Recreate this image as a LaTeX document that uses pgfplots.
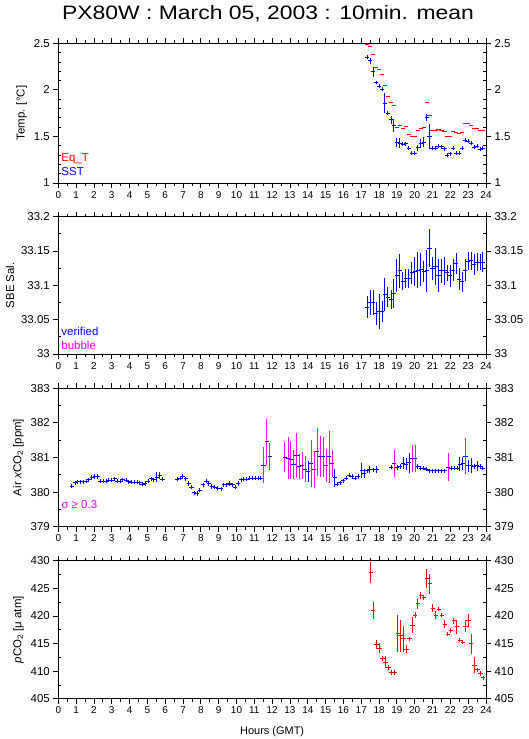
\documentclass[border=0pt]{standalone}
\usepackage{fontspec}
\setmainfont{Liberation Sans}
\usepackage{graphicx}
\usepackage{pgfplots}
\pgfplotsset{compat=1.18}
\definecolor{cblue}{RGB}{0,0,255}
\definecolor{cred}{RGB}{255,0,0}
\definecolor{cmag}{RGB}{255,0,255}

\pgfplotsset{
  panel/.style={
    scale only axis, width=427.7bp, xmin=0, xmax=24,
    xtick={0,1,...,24}, minor x tick num=1,
    tick align=outside, major tick length=5bp, minor tick length=3bp,
    xtick pos=both, ytick pos=left,
    minor y tick style={xshift=3bp},
    tick style={black, line width=0.8bp},
    axis line style={line width=0.8bp},
    xticklabel style={font=\fontsize{10}{12}\selectfont, inner sep=3bp},
    yticklabel style={font=\fontsize{11.5}{13}\selectfont},
    ylabel style={font=\fontsize{11.5}{13}\selectfont},
    /pgf/number format/assume math mode=true,
    clip=false,
  },
  rightaxis/.style={
    scale only axis, width=427.7bp, xmin=0, xmax=24, xtick=\empty,
    axis x line=none, axis y line*=right,
    tick align=outside, major tick length=5bp, minor tick length=3bp,
    minor y tick style={xshift=-3bp},
    tick style={black, line width=0.8bp},
    axis line style={line width=0.8bp},
    yticklabel style={font=\fontsize{11.5}{13}\selectfont},
    /pgf/number format/assume math mode=true,
  },
  pts/.style={only marks, mark=-, mark size=2.1bp, line width=1bp,
    color=#1, mark options={line width=1bp, solid, draw=#1}},
  ebar/.style={error bars/y dir=both, error bars/y explicit,
    error bars/error mark=none,
    error bars/draw error bar/.code 2 args={\draw[line width=1bp, color=#1] ##1 -- ##2;}},
}
\tikzset{note/.style={anchor=west, inner sep=3bp, font=\fontsize{11.5}{13}\selectfont}}

\begin{document}
\begin{tikzpicture}
\path[use as bounding box] (0,0) rectangle (529bp,739bp);

\node[font=\fontsize{19.5}{22}\selectfont] at (268bp,725bp) {\scalebox{1.18}[1]{PX80W : March 05, 2003 : 10min. mean}};

% ---- temperature
\begin{axis}[panel, at={(58.3bp,556bp)}, anchor=south west, height=139.7bp,
  ymin=1, ymax=2.5, ytick={1,1.5,2,2.5}, minor y tick num=4,
  ylabel={Temp. [°C]}]
\addplot[pts=cred] table {
17.33 2.49
17.50 2.47
17.67 2.385
17.83 2.24
18.00 2.22
18.17 2.17
18.33 2.05
18.50 1.93
18.67 1.867
18.83 1.834
19.00 1.598
19.17 1.615
19.33 1.59
19.50 1.609
19.67 1.526
19.83 1.50
20.00 1.50
20.17 1.569
20.33 1.587
20.50 1.598
20.67 1.859
20.83 1.727
21.00 1.569
21.17 1.569
21.33 1.576
21.50 1.569
21.67 1.558
21.83 1.50
22.00 1.50
22.17 1.558
22.33 1.544
22.50 1.534
22.67 1.544
22.83 1.641
23.00 1.641
23.17 1.619
23.33 1.58
23.50 1.587
23.67 1.569
23.83 1.569
};
\addplot[pts=cblue, ebar=cblue] table[x index=0, y index=1, y error index=2] {
17.33 2.35 0.02
17.50 2.31 0.03
17.67 2.195 0.055
17.83 2.08 0.02
18.00 2.04 0.02
18.17 2.006 0.02
18.33 1.856 0.105
18.50 1.75 0.02
18.67 1.677 0.04
18.83 1.62 0.07
19.00 1.437 0.048
19.17 1.426 0.055
19.33 1.415 0.02
19.50 1.422 0.02
19.67 1.372 0.02
19.83 1.319 0.02
20.00 1.319 0.02
20.17 1.379 0.032
20.33 1.422 0.045
20.50 1.437 0.055
20.67 1.705 0.04
20.83 1.50 0.13
21.00 1.372 0.02
21.17 1.372 0.02
21.33 1.397 0.02
21.50 1.39 0.02
21.67 1.365 0.02
21.83 1.30 0.02
22.00 1.315 0.02
22.17 1.372 0.02
22.33 1.319 0.02
22.50 1.319 0.02
22.67 1.372 0.02
22.83 1.46 0.02
23.00 1.45 0.02
23.17 1.426 0.02
23.33 1.383 0.02
23.50 1.397 0.02
23.67 1.362 0.02
23.83 1.372 0.02
};
\node[note, text=cred] at (rel axis cs:0,0.172) {Eq\_T};
\node[note, text=cblue] at (rel axis cs:0,0.079) {SST};
\end{axis}
\begin{axis}[rightaxis, at={(58.3bp,556bp)}, anchor=south west, height=139.7bp,
  ymin=1, ymax=2.5, ytick={1,1.5,2,2.5}, minor y tick num=4]
\addplot[draw=none] coordinates {(0,1)};
\end{axis}

% ---- salinity
\begin{axis}[panel, at={(58.3bp,385bp)}, anchor=south west, height=137.3bp,
  ymin=33, ymax=33.2, ytick={33,33.05,33.1,33.15,33.2}, minor y tick num=1,
  ylabel={SBE Sal.}]
\addplot[pts=cblue, ebar=cblue] table[x index=0, y index=1, y error index=2] {
17.33 33.068 0.016
17.50 33.075 0.018
17.67 33.075 0.018
17.83 33.059 0.017
18.00 33.062 0.026
18.17 33.062 0.015
18.33 33.086 0.024
18.50 33.083 0.014
18.67 33.079 0.014
18.83 33.088 0.021
19.00 33.114 0.024
19.17 33.121 0.025
19.33 33.106 0.013
19.50 33.110 0.014
19.67 33.110 0.014
19.83 33.118 0.016
20.00 33.120 0.021
20.17 33.122 0.026
20.33 33.123 0.024
20.50 33.120 0.015
20.67 33.121 0.030
20.83 33.154 0.028
21.00 33.125 0.017
21.17 33.128 0.027
21.33 33.114 0.024
21.50 33.121 0.018
21.67 33.121 0.020
21.83 33.118 0.012
22.00 33.114 0.016
22.17 33.122 0.016
22.33 33.132 0.015
22.50 33.109 0.016
22.67 33.105 0.015
22.83 33.122 0.016
23.00 33.135 0.013
23.17 33.136 0.013
23.33 33.130 0.015
23.50 33.134 0.013
23.67 33.134 0.011
23.83 33.134 0.014
};
\node[note, text=cblue] at (rel axis cs:0,0.162) {verified};
\node[note, text=cmag] at (rel axis cs:0,0.066) {bubble};
\end{axis}
\begin{axis}[rightaxis, at={(58.3bp,385bp)}, anchor=south west, height=137.3bp,
  ymin=33, ymax=33.2, ytick={33,33.05,33.1,33.15,33.2}, minor y tick num=1]
\addplot[draw=none] coordinates {(0,33)};
\end{axis}

% ---- air xCO2
\begin{axis}[panel, at={(58.3bp,212.3bp)}, anchor=south west, height=138.4bp,
  ymin=379, ymax=383, ytick={379,380,381,382,383}, minor y tick num=1,
  ylabel={Air \textit{x}CO\textsubscript{2} [ppm]}]
\addplot[pts=cblue, ebar=cblue] table[x index=0, y index=1, y error index=2] {
0.75 380.17 0.06
0.94 380.27 0.06
1.09 380.30 0.06
1.25 380.30 0.06
1.40 380.30 0.06
1.57 380.31 0.06
1.72 380.36 0.06
1.87 380.42 0.06
2.04 380.45 0.06
2.21 380.45 0.06
2.36 380.32 0.06
2.53 380.32 0.06
2.68 380.32 0.06
2.84 380.34 0.06
2.99 380.34 0.06
3.16 380.38 0.06
3.31 380.32 0.06
3.48 380.31 0.06
3.63 380.36 0.06
3.80 380.34 0.06
3.95 380.30 0.06
4.11 380.28 0.06
4.26 380.28 0.06
4.43 380.28 0.06
4.58 380.27 0.06
4.73 380.23 0.06
4.88 380.25 0.06
5.05 380.32 0.06
5.22 380.38 0.06
5.37 380.35 0.06
5.52 380.43 0.14
5.69 380.49 0.10
5.85 380.37 0.06
6.68 380.37 0.06
6.83 380.40 0.06
6.99 380.45 0.06
7.15 380.39 0.06
7.32 380.25 0.06
7.47 380.14 0.06
7.63 379.98 0.06
7.80 379.96 0.06
7.95 380.06 0.06
8.12 380.21 0.06
8.29 380.32 0.06
8.45 380.25 0.06
8.62 380.16 0.06
8.79 380.14 0.06
8.96 380.11 0.06
9.13 380.09 0.06
9.28 380.21 0.06
9.44 380.21 0.06
9.61 380.25 0.06
9.78 380.21 0.06
9.93 380.14 0.06
10.10 380.25 0.06
10.26 380.35 0.06
10.41 380.37 0.06
10.58 380.37 0.06
10.75 380.40 0.06
10.90 380.40 0.06
11.07 380.40 0.06
11.24 380.40 0.06
11.37 380.40 0.06
14.02 380.60 0.31
15.52 380.41 0.27
15.65 380.23 0.06
15.82 380.27 0.06
15.98 380.33 0.06
16.15 380.40 0.06
16.32 380.49 0.06
16.49 380.45 0.06
16.66 380.40 0.06
16.83 380.45 0.06
17.02 380.62 0.22
17.16 380.54 0.12
17.33 380.62 0.06
17.48 380.66 0.10
17.67 380.64 0.06
17.85 380.66 0.10
18.68 380.72 0.06
19.01 380.71 0.06
19.18 380.74 0.06
19.35 380.83 0.17
19.52 380.81 0.17
19.69 380.85 0.29
20.17 380.74 0.06
20.34 380.69 0.06
20.51 380.69 0.06
20.66 380.66 0.06
20.83 380.62 0.06
21.00 380.62 0.06
21.17 380.62 0.06
21.33 380.62 0.06
21.50 380.62 0.06
21.67 380.62 0.06
22.04 380.69 0.06
22.21 380.69 0.06
22.38 380.69 0.06
22.53 380.81 0.21
22.70 380.83 0.19
23.00 380.76 0.17
23.16 380.76 0.22
23.33 380.74 0.06
23.50 380.76 0.15
23.67 380.74 0.06
23.83 380.69 0.06
};
\addplot[pts=cblue, ebar=cmag] table[x index=0, y index=1, y error index=2] {
11.52 380.77 0.52
11.69 381.45 0.66
11.87 381.03 0.38
12.71 381.01 0.43
12.90 380.98 0.60
13.05 380.93 0.55
13.20 380.80 0.42
13.37 381.06 0.66
13.52 380.73 0.36
13.69 380.76 0.39
13.85 380.66 0.37
14.19 380.83 0.69
14.36 380.66 0.54
14.53 381.16 0.70
14.69 381.02 0.59
14.86 381.02 0.57
15.03 380.76 0.48
15.20 381.02 0.75
15.37 380.83 0.40
18.85 380.83 0.39
19.88 380.98 0.39
20.02 380.98 0.39
21.87 380.72 0.40
22.85 381.04 0.53
};
\node[note, text=cmag] at (rel axis cs:0,0.162) {σ ≥ 0.3};
\end{axis}
\begin{axis}[rightaxis, at={(58.3bp,212.3bp)}, anchor=south west, height=138.4bp,
  ymin=379, ymax=383, ytick={379,380,381,382,383}, minor y tick num=1]
\addplot[draw=none] coordinates {(0,380)};
\end{axis}

% ---- pCO2
\begin{axis}[panel, at={(58.3bp,40.3bp)}, anchor=south west, height=138bp,
  ymin=405, ymax=430, ytick={405,410,415,420,425,430}, minor y tick num=1,
  ylabel={\textit{p}CO\textsubscript{2} [μ atm]},
  xlabel={Hours (GMT)},
  xlabel style={font=\fontsize{11}{12}\selectfont, inner sep=1bp, yshift=-8bp}]
\addplot[pts=cred, ebar=cred] table[x index=0, y index=1, y error index=2] {
17.54 427.90 1.9
17.67 420.94 1.5
17.86 414.86 0.8
18.02 414.13 0.9
18.19 412.32 0.4
18.36 411.60 1.1
18.53 410.62 0.4
18.70 409.71 0.4
18.88 409.71 0.4
19.04 416.85 3.3
19.20 416.41 2.9
19.37 415.82 2.4
19.54 414.00 0.8
19.71 415.82 0.4
19.88 418.35 1.5
20.02 420.16 0.6
20.17 422.16 0.9
20.34 423.66 0.6
20.51 423.37 0.4
20.68 426.81 1.75
20.85 425.78 1.8
21.02 421.38 0.75
21.18 420.16 0.65
21.35 421.25 0.4
21.52 420.16 0.4
21.69 418.48 0.75
21.86 416.67 0.4
22.02 417.32 0.4
22.19 419.08 0.6
22.36 418.04 1.27
22.53 415.63 0.4
22.70 415.22 0.4
22.85 418.17 1.1
23.02 419.20 1.15
23.18 414.91 1.9
23.35 411.10 1.4
23.52 410.20 0.4
23.69 409.60 0.4
23.84 408.80 0.4
};
\end{axis}
\begin{axis}[rightaxis, at={(58.3bp,40.3bp)}, anchor=south west, height=138bp,
  ymin=405, ymax=430, ytick={405,410,415,420,425,430}, minor y tick num=1]
\addplot[draw=none] coordinates {(0,410)};
\end{axis}
\end{tikzpicture}
\end{document}
